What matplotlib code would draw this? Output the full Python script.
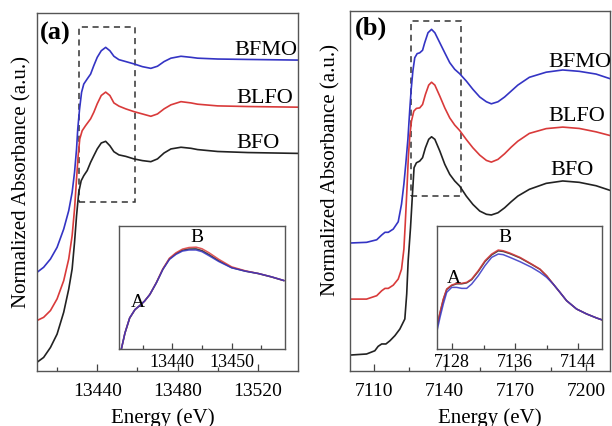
import numpy as np
import matplotlib
matplotlib.use("Agg")
import matplotlib.pyplot as plt
from matplotlib.patches import Rectangle
from matplotlib.ticker import FixedLocator

plt.rcParams['font.family'] = ['Liberation Serif', 'DejaVu Serif']

# ---- panel (a): normalized absorbance, each curve measured from its own baseline
a_bfo_e = [13410.0, 13413.3, 13416.7, 13420.0, 13423.3, 13425.8, 13427.5, 13428.7, 13429.7,
           13430.8, 13432.0, 13433.3, 13435.0, 13436.7, 13438.3, 13440.0, 13442.0, 13444.2,
           13446.3, 13448.3, 13450.8, 13454.2, 13458.3, 13462.5, 13466.7, 13470.0, 13473.3,
           13476.7, 13481.7, 13486.7, 13490.0, 13500.0, 13515.0, 13540.0]
a_bfo = [0.013, 0.036, 0.083, 0.146, 0.249, 0.358, 0.453, 0.579, 0.704, 0.815, 0.869, 0.893,
         0.917, 0.956, 0.987, 1.019, 1.047, 1.055, 1.034, 1.006, 0.991, 0.984, 0.972, 0.964,
         0.959, 0.972, 1.000, 1.019, 1.027, 1.022, 1.016, 1.007, 1.002, 0.998]

a_blfo_e = [13410.0, 13413.3, 13416.7, 13420.0, 13423.3, 13425.8, 13427.5, 13428.7, 13429.7,
            13430.5, 13431.3, 13432.5, 13434.2, 13436.7, 13438.3, 13440.0, 13442.0, 13444.2,
            13446.3, 13448.3, 13450.8, 13454.2, 13458.3, 13462.5, 13466.7, 13470.0, 13473.3,
            13476.7, 13481.7, 13486.7, 13490.0, 13500.0, 13515.0, 13540.0]
a_blfo = [0.002, 0.017, 0.049, 0.104, 0.190, 0.292, 0.402, 0.528, 0.670, 0.780, 0.858, 0.897,
          0.921, 0.953, 0.984, 1.024, 1.063, 1.079, 1.063, 1.028, 1.013, 1.000, 0.987, 0.976,
          0.965, 0.976, 1.000, 1.019, 1.034, 1.028, 1.022, 1.014, 1.011, 1.008]

a_bfmo_e = [13410.0, 13413.3, 13416.7, 13420.0, 13423.3, 13425.8, 13427.5, 13428.7, 13429.7,
            13430.3, 13431.2, 13432.2, 13433.3, 13435.0, 13436.7, 13438.3, 13440.0, 13442.0,
            13444.2, 13446.3, 13448.3, 13450.8, 13454.2, 13458.3, 13462.5, 13466.7, 13470.0,
            13473.3, 13476.7, 13481.7, 13486.7, 13490.0, 13500.0, 13515.0, 13540.0]
a_bfmo = [0.008, 0.032, 0.071, 0.126, 0.212, 0.299, 0.385, 0.480, 0.590, 0.684, 0.778, 0.857,
          0.896, 0.920, 0.943, 0.983, 1.022, 1.053, 1.069, 1.053, 1.027, 1.011, 1.002, 0.991,
          0.978, 0.970, 0.980, 1.002, 1.018, 1.027, 1.022, 1.018, 1.014, 1.012, 1.009]

# inset (a)
ia_e = [13431.2, 13431.4, 13432.0, 13432.8, 13433.7, 13434.5, 13435.3, 13436.2, 13437.3, 13438.4,
        13439.5, 13440.6, 13441.7, 13442.8, 13444.0, 13445.0, 13446.2, 13447.8, 13450.0,
        13452.3, 13454.5, 13456.7, 13458.8]
ia_bfo = [-0.03, 0.000, 0.128, 0.251, 0.320, 0.353, 0.389, 0.443, 0.538, 0.649, 0.732, 0.775,
          0.803, 0.813, 0.814, 0.800, 0.767, 0.718, 0.662, 0.633, 0.613, 0.586, 0.556]
ia_blfo = [-0.03, 0.000, 0.130, 0.253, 0.321, 0.353, 0.389, 0.443, 0.540, 0.652, 0.738, 0.782,
           0.812, 0.825, 0.828, 0.815, 0.782, 0.730, 0.668, 0.636, 0.614, 0.587, 0.557]
ia_bfmo = [-0.03, 0.000, 0.130, 0.253, 0.321, 0.353, 0.389, 0.443, 0.538, 0.647, 0.728, 0.769,
           0.796, 0.805, 0.805, 0.791, 0.758, 0.712, 0.660, 0.633, 0.614, 0.587, 0.557]

# ---- panel (b)
b_bfo_e = [7100.3, 7107.0, 7110.5, 7111.9, 7113.4, 7115.2, 7116.9, 7119.0, 7121.1, 7123.2,
           7124.0, 7124.6, 7125.6, 7126.5, 7127.1, 7128.1, 7129.5, 7130.7, 7131.9, 7133.3,
           7134.5, 7135.9, 7138.0, 7140.1, 7142.2, 7144.3, 7146.4, 7149.2, 7152.0, 7154.9,
           7157.7, 7159.8, 7162.6, 7165.4, 7168.2, 7171.0, 7175.9, 7183.0, 7190.0, 7197.0,
           7204.1, 7210.4]
b_bfo = [0.000, 0.006, 0.025, 0.051, 0.065, 0.065, 0.084, 0.114, 0.153, 0.212, 0.360, 0.553,
         0.749, 0.965, 1.102, 1.131, 1.141, 1.161, 1.219, 1.269, 1.284, 1.269, 1.200, 1.122,
         1.063, 1.024, 0.994, 0.935, 0.886, 0.847, 0.828, 0.824, 0.837, 0.866, 0.902, 0.935,
         0.975, 1.010, 1.024, 1.016, 0.996, 0.967]

b_blfo_e = [7100.0, 7107.0, 7111.3, 7113.4, 7114.8, 7116.2, 7118.3, 7120.4, 7121.8, 7122.8,
            7123.4, 7124.1, 7124.7, 7125.3, 7126.0, 7127.0, 7128.1, 7129.5, 7130.7, 7131.9,
            7133.3, 7134.5, 7135.9, 7138.0, 7140.1, 7142.2, 7144.3, 7146.4, 7149.2, 7152.0,
            7154.9, 7157.7, 7159.8, 7162.6, 7165.4, 7168.2, 7171.0, 7175.9, 7183.0, 7190.0,
            7197.0, 7204.1, 7210.4]
b_blfo = [0.000, 0.000, 0.020, 0.049, 0.063, 0.063, 0.082, 0.118, 0.176, 0.294, 0.450, 0.650,
          0.840, 0.960, 1.047, 1.106, 1.122, 1.125, 1.145, 1.204, 1.259, 1.276, 1.259, 1.194,
          1.125, 1.066, 1.024, 0.992, 0.939, 0.890, 0.847, 0.816, 0.806, 0.822, 0.855, 0.894,
          0.929, 0.975, 1.003, 1.012, 1.004, 0.984, 0.961]

b_bfmo_e = [7100.0, 7107.0, 7111.3, 7113.4, 7114.8, 7116.2, 7118.3, 7120.4, 7121.8, 7122.8,
            7123.6, 7124.5, 7125.3, 7125.9, 7126.6, 7127.4, 7128.4, 7129.5, 7130.7, 7131.6,
            7133.0, 7134.5, 7135.9, 7138.0, 7140.1, 7142.2, 7144.3, 7146.4, 7149.2, 7152.0,
            7154.9, 7157.7, 7159.8, 7162.6, 7165.4, 7168.2, 7171.0, 7175.9, 7183.0, 7190.0,
            7197.0, 7204.1, 7210.4]
b_bfmo = [0.000, 0.004, 0.019, 0.047, 0.063, 0.063, 0.082, 0.125, 0.229, 0.347, 0.465, 0.612,
          0.788, 0.906, 1.012, 1.090, 1.114, 1.119, 1.134, 1.178, 1.237, 1.257, 1.237, 1.178,
          1.119, 1.061, 1.022, 0.996, 0.953, 0.904, 0.859, 0.831, 0.819, 0.831, 0.859, 0.894,
          0.929, 0.975, 1.005, 1.018, 1.010, 0.994, 0.965]

# inset (b)
ib_e = [7126.06, 7126.48, 7126.90, 7127.33, 7127.96, 7128.59, 7129.23, 7129.86, 7130.49,
        7131.33, 7132.18, 7133.02, 7133.86, 7134.49, 7135.34, 7136.61, 7138.08, 7139.14,
        7139.98, 7140.82, 7141.67, 7142.51, 7143.78, 7145.05, 7146.32, 7146.95]
ib_blfo = [0.176, 0.298, 0.407, 0.488, 0.520, 0.534, 0.534, 0.542, 0.569, 0.637, 0.718, 0.772,
           0.805, 0.799, 0.780, 0.745, 0.691, 0.650, 0.596, 0.528, 0.461, 0.393, 0.325, 0.285,
           0.252, 0.238]
ib_bfo = [0.170, 0.292, 0.402, 0.484, 0.516, 0.530, 0.530, 0.538, 0.564, 0.631, 0.711, 0.765,
          0.798, 0.793, 0.775, 0.741, 0.688, 0.648, 0.595, 0.528, 0.461, 0.393, 0.325, 0.285,
          0.252, 0.238]
ib_bfmo = [0.136, 0.257, 0.366, 0.461, 0.501, 0.501, 0.493, 0.493, 0.528, 0.596, 0.678, 0.745,
           0.772, 0.767, 0.745, 0.710, 0.664, 0.623, 0.583, 0.528, 0.461, 0.393, 0.325, 0.285,
           0.252, 0.238]

names = ['BFO', 'BLFO', 'BFMO']
colors = ['#222222', '#d93a3a', '#3434c4']
offsets_a = [0.0, 0.208, 0.429]
offsets_b = [0.0, 0.329, 0.659]

W, H = 612, 427
fig = plt.figure(figsize=(W / 100, H / 100), dpi=100)


def px_axes(l, t, r, b):
    return fig.add_axes([l / W, (H - b) / H, (r - l) / W, (b - t) / H])


def style_axes(ax, major, minor, fs, maj_len, min_len, pad):
    ax.xaxis.set_major_locator(FixedLocator(major))
    ax.xaxis.set_minor_locator(FixedLocator(minor))
    ax.tick_params(axis='x', which='major', direction='in', length=maj_len, width=0.9,
                   labelsize=fs, pad=pad, top=False, color='#444444')
    ax.tick_params(axis='x', which='minor', direction='in', length=min_len, width=0.9,
                   top=False, color='#444444')
    ax.set_yticks([])
    for s in ax.spines.values():
        s.set_color('#555555')
        s.set_linewidth(1.0)


ax_a = px_axes(37, 14, 298, 372)
ax_b = px_axes(350, 12, 610, 372)

for e, y, off, c in zip([a_bfo_e, a_blfo_e, a_bfmo_e], [a_bfo, a_blfo, a_bfmo], offsets_a, colors):
    ax_a.plot(e, np.array(y) + off, color=c, lw=1.2)
for e, y, off, c in zip([b_bfo_e, b_blfo_e, b_bfmo_e], [b_bfo, b_blfo, b_bfmo], offsets_b, colors):
    ax_b.plot(e, np.array(y) + off, color=c, lw=1.2)

ax_a.set_xlim(13410, 13540)
ax_a.set_ylim(-0.028, 1.660)
ax_b.set_xlim(7100, 7210)
ax_b.set_ylim(-0.094, 2.024)

style_axes(ax_a, [13440, 13480, 13520], [13420, 13460, 13500], 14, 5, 3, 8)
style_axes(ax_b, [7110, 7140, 7170, 7200], [7125, 7155, 7185], 14, 5, 3, 8)

# dashed zoom boxes
ax_a.add_patch(Rectangle((13431, 0.769), 28, 0.825, fill=False, ls=(0, (4, 3)),
                         lw=1.1, ec='#333333'))
ax_b.add_patch(Rectangle((7125.7, 0.935), 21.1, 1.030, fill=False, ls=(0, (4, 3)),
                         lw=1.1, ec='#333333'))

# curve labels
for ax, pos in [(ax_a, [(0.764, 0.638), (0.764, 0.763), (0.756, 0.897)]),
                (ax_b, [(0.769, 0.561), (0.762, 0.711), (0.762, 0.861)])]:
    for n, (x, y) in zip(names, pos):
        ax.text(x, y, n, transform=ax.transAxes, fontsize=16, ha='left', va='center')

ax_a.text(0.011, 0.947, '(a)', transform=ax_a.transAxes, fontsize=19, fontweight='bold',
          ha='left', va='center')
ax_b.text(0.019, 0.956, '(b)', transform=ax_b.transAxes, fontsize=19, fontweight='bold',
          ha='left', va='center')

# axis titles
for cx, cy in [(22, 182), (331, 170)]:
    fig.text(cx / W, 1 - cy / H, 'Normalized Absorbance (a.u.)', rotation=90,
             ha='center', va='center', fontsize=15)
for cx in [163, 490]:
    fig.text(cx / W, 1 - 418 / H, 'Energy (eV)', ha='center', va='center', fontsize=15)

# insets
in_a = px_axes(119, 227, 285, 350)
in_b = px_axes(437, 227, 602, 350)
for y, c in zip([ia_bfo, ia_blfo, ia_bfmo], colors):
    in_a.plot(ia_e, y, color=c, lw=1.1, alpha=0.85)
for y, c in zip([ib_bfo, ib_blfo, ib_bfmo], colors):
    in_b.plot(ib_e, y, color=c, lw=1.1, alpha=0.85)
in_a.set_xlim(13431, 13459)
in_a.set_ylim(0, 1)
in_b.set_xlim(7126.1, 7147)
in_b.set_ylim(0, 1)
style_axes(in_a, [13440, 13450], [13435, 13445, 13455], 13, 4, 3, 3)
style_axes(in_b, [7128, 7136, 7144], [7132, 7140], 13, 4, 3, 3)

in_a.text(0.114, 0.390, 'A', transform=in_a.transAxes, fontsize=14, ha='center', va='center')
in_a.text(0.470, 0.911, 'B', transform=in_a.transAxes, fontsize=14, ha='center', va='center')
in_b.text(0.103, 0.585, 'A', transform=in_b.transAxes, fontsize=14, ha='center', va='center')
in_b.text(0.412, 0.911, 'B', transform=in_b.transAxes, fontsize=14, ha='center', va='center')

fig.savefig('out.png', dpi=100)
